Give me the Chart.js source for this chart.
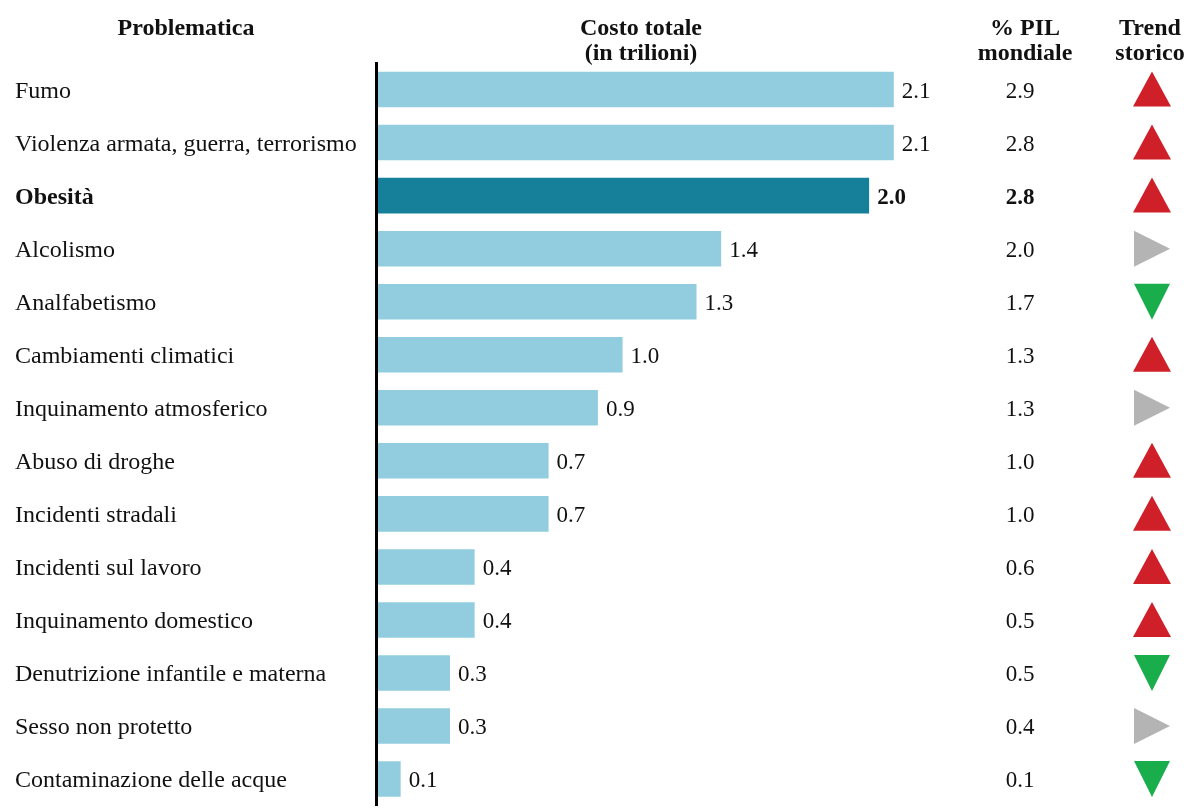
<!DOCTYPE html>
<html>
<head>
<meta charset="utf-8">
<script src="https://cdn.jsdelivr.net/npm/chart.js@4.4.0/dist/chart.umd.min.js"></script>
<style>
  html, body { margin: 0; padding: 0; background: #fff; overflow: hidden; }
  #wrap { width: 1186px; height: 820px; }
</style>
</head>
<body>
<div id="wrap"><canvas id="costChart" width="1186" height="820"></canvas></div>
<script>
const categories = [
  "Fumo", "Violenza armata, guerra, terrorismo", "Obesità", "Alcolismo",
  "Analfabetismo", "Cambiamenti climatici", "Inquinamento atmosferico",
  "Abuso di droghe", "Incidenti stradali", "Incidenti sul lavoro",
  "Inquinamento domestico", "Denutrizione infantile e materna",
  "Sesso non protetto", "Contaminazione delle acque"
];
const costTrillions = [2.1, 2.1, 2.0, 1.4, 1.3, 1.0, 0.9, 0.7, 0.7, 0.4, 0.4, 0.3, 0.3, 0.1];
const gdpShare = ["2.9", "2.8", "2.8", "2.0", "1.7", "1.3", "1.3", "1.0", "1.0", "0.6", "0.5", "0.5", "0.4", "0.1"];
// up / flat / down
const trend = ["up", "up", "up", "flat", "down", "up", "flat", "up", "up", "up", "up", "down", "flat", "down"];
const highlight = "Obesità";

const serif = "'Liberation Serif', 'DejaVu Serif', serif";
const lightBlue = "#91cddf";
const darkBlue = "#16809b";
const trendColors = { up: "#cf2029", flat: "#b4b4b4", down: "#1aad4b" };

const pilX = 1020;
const trendX = 1152;

const sideColumns = {
  id: "sideColumns",
  afterDraw(chart) {
    const ctx = chart.ctx;
    const meta = chart.getDatasetMeta(0);
    const yScale = chart.scales.y;
    ctx.save();
    ctx.fillStyle = "#111";
    ctx.textBaseline = "middle";

    // value labels at bar ends
    meta.data.forEach((bar, i) => {
      const bold = categories[i] === highlight;
      ctx.font = (bold ? "bold " : "") + "23px " + serif;
      ctx.textAlign = "left";
      ctx.fillText(costTrillions[i].toFixed(1), bar.x + 8, bar.y + 2);
    });

    // % PIL column
    categories.forEach((c, i) => {
      const y = yScale.getPixelForValue(i);
      const bold = c === highlight;
      ctx.font = (bold ? "bold " : "") + "23px " + serif;
      ctx.textAlign = "center";
      ctx.fillStyle = "#111";
      ctx.fillText(gdpShare[i], pilX, y + 2);

      // trend triangles
      ctx.fillStyle = trendColors[trend[i]];
      ctx.beginPath();
      if (trend[i] === "up") {
        ctx.moveTo(trendX, y - 18);
        ctx.lineTo(trendX + 19, y + 17);
        ctx.lineTo(trendX - 19, y + 17);
      } else if (trend[i] === "down") {
        ctx.moveTo(trendX - 18, y - 18);
        ctx.lineTo(trendX + 18, y - 18);
        ctx.lineTo(trendX, y + 18);
      } else {
        ctx.moveTo(trendX - 18, y - 18);
        ctx.lineTo(trendX + 18, y);
        ctx.lineTo(trendX - 18, y + 18);
      }
      ctx.closePath();
      ctx.fill();
    });

    // column headers
    ctx.fillStyle = "#111";
    ctx.font = "bold 24px " + serif;
    ctx.textAlign = "center";
    ctx.fillText("Problematica", 186, 29);
    ctx.fillText("Costo totale", 641, 29);
    ctx.fillText("(in trilioni)", 641, 54);
    ctx.fillText("% PIL", 1025, 29);
    ctx.fillText("mondiale", 1025, 54);
    ctx.fillText("Trend", 1150, 29);
    ctx.fillText("storico", 1150, 54);
    ctx.restore();
  }
};

new Chart(document.getElementById("costChart"), {
  type: "bar",
  data: {
    labels: categories,
    datasets: [{
      data: costTrillions,
      backgroundColor: categories.map(c => c === highlight ? darkBlue : lightBlue),
      borderWidth: 0,
      barPercentage: 0.67,
      categoryPercentage: 1.0
    }]
  },
  options: {
    indexAxis: "y",
    responsive: false,
    animation: false,
    layout: { padding: { left: 15, right: 21, top: 63, bottom: 4 } },
    plugins: { legend: { display: false }, tooltip: { enabled: false } },
    scales: {
      x: {
        display: false,
        min: 0,
        max: 3.2
      },
      y: {
        afterFit: (scale) => { scale.width = 361; },
        grid: { display: false, drawTicks: false },
        border: { display: true, color: "#000", width: 3, z: 1 },
        ticks: {
          crossAlign: "far",
          color: "#111",
          padding: 0,
          labelOffset: 2,
          font: (ctx) => ({
            family: serif,
            size: 24,
            weight: categories[ctx.index] === highlight ? "bold" : "normal"
          })
        }
      }
    }
  },
  plugins: [sideColumns]
});
</script>
</body>
</html>
